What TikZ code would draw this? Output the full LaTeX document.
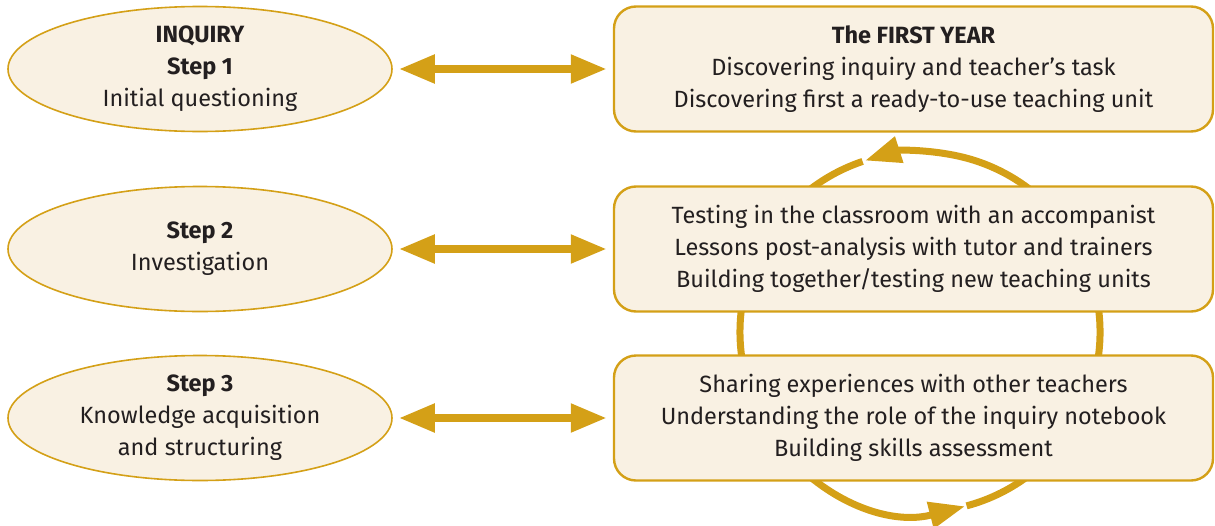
\documentclass[tikz,border=0pt]{standalone}
\usepackage{fontspec}
\setmainfont{Fira Sans}
\usetikzlibrary{positioning, calc, arrows.meta, shapes.geometric}

\definecolor{gold}{RGB}{212,160,23}
\definecolor{cream}{RGB}{249,241,227}
\definecolor{inktext}{RGB}{35,31,32}

\begin{document}
\begin{tikzpicture}[
    x=1pt, y=-1pt,
    every node/.style={font=\fontsize{23.5}{32}\selectfont, text=inktext, align=center},
    stepoval/.style={ellipse, draw=gold, line width=1.6pt, fill=cream, minimum width=384pt, minimum height=125pt, inner sep=0pt},
    phasebox/.style={rectangle, rounded corners=22pt, draw=gold, line width=2.4pt, fill=cream, minimum width=599pt, minimum height=125pt, inner sep=0pt},
    dblarrow/.style={draw=gold, line width=8pt, {Triangle[length=36pt, width=27pt]}-{Triangle[length=36pt, width=27pt]}, shorten <=6pt, shorten >=6pt},
    cyclearc/.style={draw=gold, line width=7pt, -{Triangle[length=36pt, width=26pt]}}
]

% fix the page to the reference size
\useasboundingbox (0,0) rectangle (1215,525);

% --- Cycle behind the boxes ---
\coordinate (cyc) at (920,332);
\draw[cyclearc] ([shift={(-75:180pt)}]cyc) arc[start angle=-75, end angle=107.8, radius=180pt];
\draw[cyclearc] ([shift={(108.6:180pt)}]cyc) arc[start angle=108.6, end angle=284.5, radius=180pt];

% --- Inquiry steps (left) ---
\node[stepoval] (step1) at (200,69) {\textbf{INQUIRY}\\ \textbf{Step 1}\\ Initial questioning};
\node[stepoval] (step2) at (200,249) {\textbf{Step 2}\\ Investigation};
\node[stepoval] (step3) at (200,418) {\textbf{Step 3}\\ Knowledge acquisition\\ and structuring};

% --- Training phases (right) ---
\node[phasebox] (phase1) at (913.5,69) {\textbf{The FIRST YEAR}\\ Discovering inquiry and teacher’s task\\ Discovering first a ready-to-use teaching unit};
\node[phasebox] (phase2) at (913.5,249) {Testing in the classroom with an accompanist\\ Lessons post-analysis with tutor and trainers\\ Building together/testing new teaching units};
\node[phasebox] (phase3) at (913.5,418) {Sharing experiences with other teachers\\ Understanding the role of the inquiry notebook\\ Building skills assessment};

% --- Links ---
\foreach \i in {1,2,3} {
    \draw[dblarrow] (step\i.east) -- (phase\i.west);
}

\end{tikzpicture}
\end{document}
